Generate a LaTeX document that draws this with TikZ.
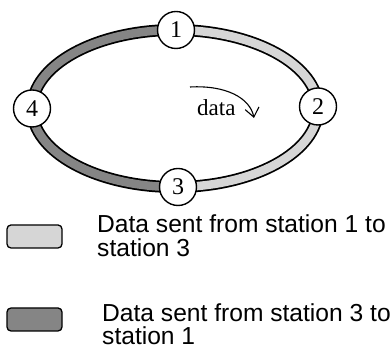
\documentclass[tikz,border=0pt]{standalone}
\usepackage{fontspec}
\setmainfont{Liberation Serif}
\newfontfamily\legendfont{Liberation Sans}
\usetikzlibrary{arrows.meta,calc}
\definecolor{lightband}{HTML}{D6D6D6}
\definecolor{darkband}{HTML}{858585}
\tikzset{
  station/.style={circle, draw=black, line width=1.4pt, fill=white,
    minimum size=37pt, inner sep=0pt, font=\fontsize{24}{26}\selectfont},
  legbox/.style={draw=black, line width=1.3pt, rounded corners=4pt,
    minimum width=55pt, minimum height=23pt, inner sep=0pt},
  legtext/.style={anchor=base west, inner sep=0pt,
    font=\legendfont\fontsize{24.6}{26}\selectfont},
}
\begin{document}
\begin{tikzpicture}[x=1pt,y=1pt]
\useasboundingbox (0,0) rectangle (391,350);
\def\ra{143}\def\rb{78.5}
\coordinate (c) at (175,241.5);
% ring outline, then the two coloured halves
\draw[line width=12pt] (c) ellipse[x radius=\ra, y radius=\rb];
\draw[line width=8.5pt, lightband] ($(c)+(0,\rb)$) arc[start angle=90, end angle=-90, x radius=\ra, y radius=\rb];
\draw[line width=8.5pt, darkband] ($(c)+(0,\rb)$) arc[start angle=90, end angle=270, x radius=\ra, y radius=\rb];
% stations
\node[station] (s1) at ($(c)+(1,\rb)$) {1};
\node[station] (s2) at ($(c)+(\ra,2)$) {2};
\node[station] (s3) at ($(c)+(3,-\rb)$) {3};
\node[station] (s4) at ($(c)+(-\ra,0)$) {4};
% direction of travel
\node[anchor=base west, inner sep=0pt, font=\fontsize{23}{25}\selectfont] (lbl) at (197,234) {data};
\coordinate (a0) at (190,263);
\coordinate (a1) at (254,232);
\draw[line width=1.1pt, -{Straight Barb[length=9pt, width=14pt]}] (a0) .. controls (226,265) and (250,252) .. (a1);
% legend
\node[legbox, fill=lightband] (k1) at (34.5,113.5) {};
\node[legtext] (t1a) at (97,117) {Data sent from station 1 to};
\node[legtext] (t1b) at (97,93) {station 3};
\node[legbox, fill=darkband] (k2) at (34.5,30.5) {};
\node[legtext] (t2a) at (102,28) {Data sent from station 3 to};
\node[legtext] (t2b) at (102,5) {station 1};
\end{tikzpicture}
\end{document}
